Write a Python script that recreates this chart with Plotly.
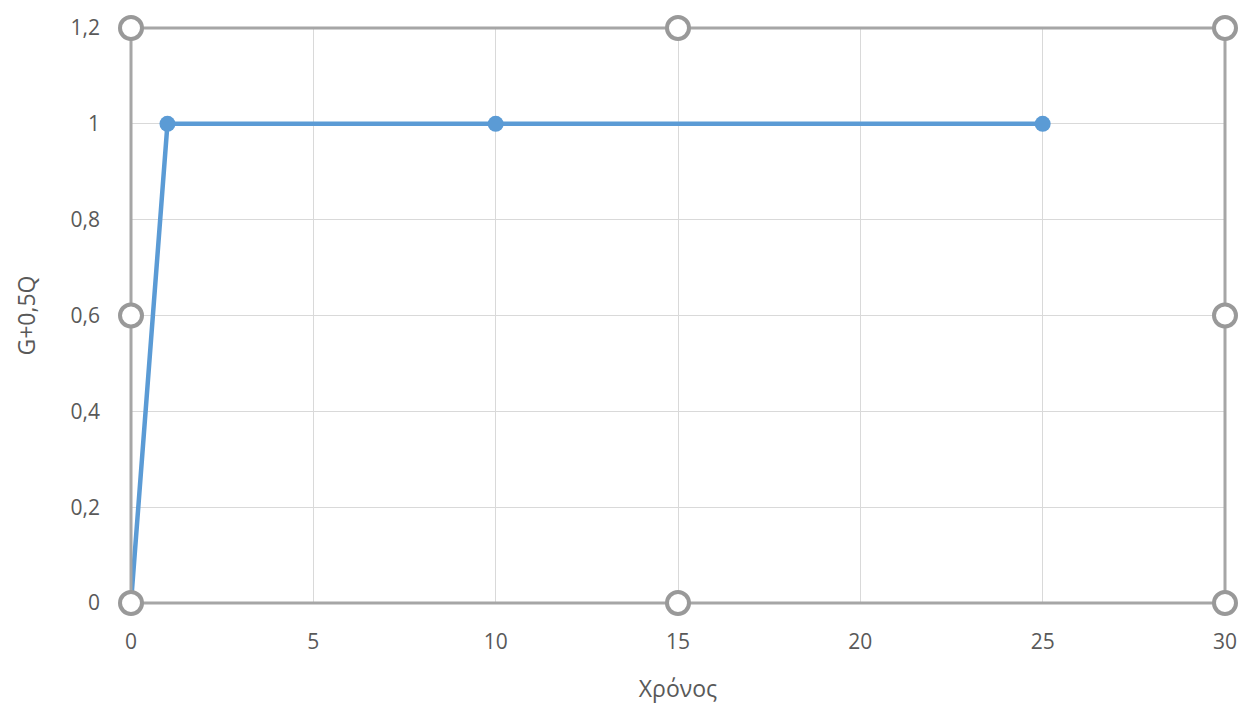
import plotly.graph_objects as go

# Load profile over time
time_vals = [0, 1, 10, 25]
load_vals = [0, 1, 1, 1]

x_ticks = [0, 5, 10, 15, 20, 25, 30]
y_ticks = [0, 0.2, 0.4, 0.6, 0.8, 1.0, 1.2]

# Frame handle positions (corners and edge midpoints), in axis units
handle_x = [0, 15, 30, 0, 30, 0, 15, 30]
handle_y = [0, 0, 0, 0.6, 0.6, 1.2, 1.2, 1.2]

X_MAX = 30
Y_MAX = 1.2

line_color = "#5b9bd5"
text_color = "#595959"
frame_color = "#a6a6a6"

fig = go.Figure()
fig.add_trace(go.Scatter(
    x=time_vals, y=load_vals, mode="lines+markers",
    line=dict(color=line_color, width=4.5),
    marker=dict(color=line_color, size=16),
    showlegend=False, hoverinfo="skip",
))

shapes = [dict(type="rect", xref="paper", yref="paper", x0=0, x1=1, y0=0, y1=1,
               line=dict(color=frame_color, width=3), layer="above")]
for hx, hy in zip(handle_x, handle_y):
    shapes.append(dict(
        type="circle", xref="paper", yref="paper",
        xsizemode="pixel", ysizemode="pixel",
        xanchor=hx / X_MAX, yanchor=hy / Y_MAX,
        x0=-11, x1=11, y0=-11, y1=11,
        fillcolor="white", line=dict(color="#999999", width=4),
        layer="above",
    ))

fig.update_layout(
    width=1249, height=709,
    margin=dict(l=131, r=20, t=28, b=104),
    paper_bgcolor="white", plot_bgcolor="white",
    separators=", ",
    font=dict(family="Open Sans, DejaVu Sans, sans-serif", color=text_color, size=21),
    shapes=shapes,
    xaxis=dict(
        range=[0, X_MAX], tickvals=x_ticks, showgrid=True, gridcolor="#d9d9d9",
        gridwidth=1, zeroline=False, showline=False, ticks="",
        ticklabelstandoff=24,
        title=dict(text="Χρόνος", font=dict(size=23, color=text_color), standoff=26),
    ),
    yaxis=dict(
        range=[0, Y_MAX], tickvals=y_ticks, showgrid=True, gridcolor="#d9d9d9",
        gridwidth=1, zeroline=False, showline=False, ticks="",
        ticklabelstandoff=30,
        title=dict(text="G+0,5Q", font=dict(size=23, color=text_color), standoff=28),
    ),
)

fig.write_html("out.html")
